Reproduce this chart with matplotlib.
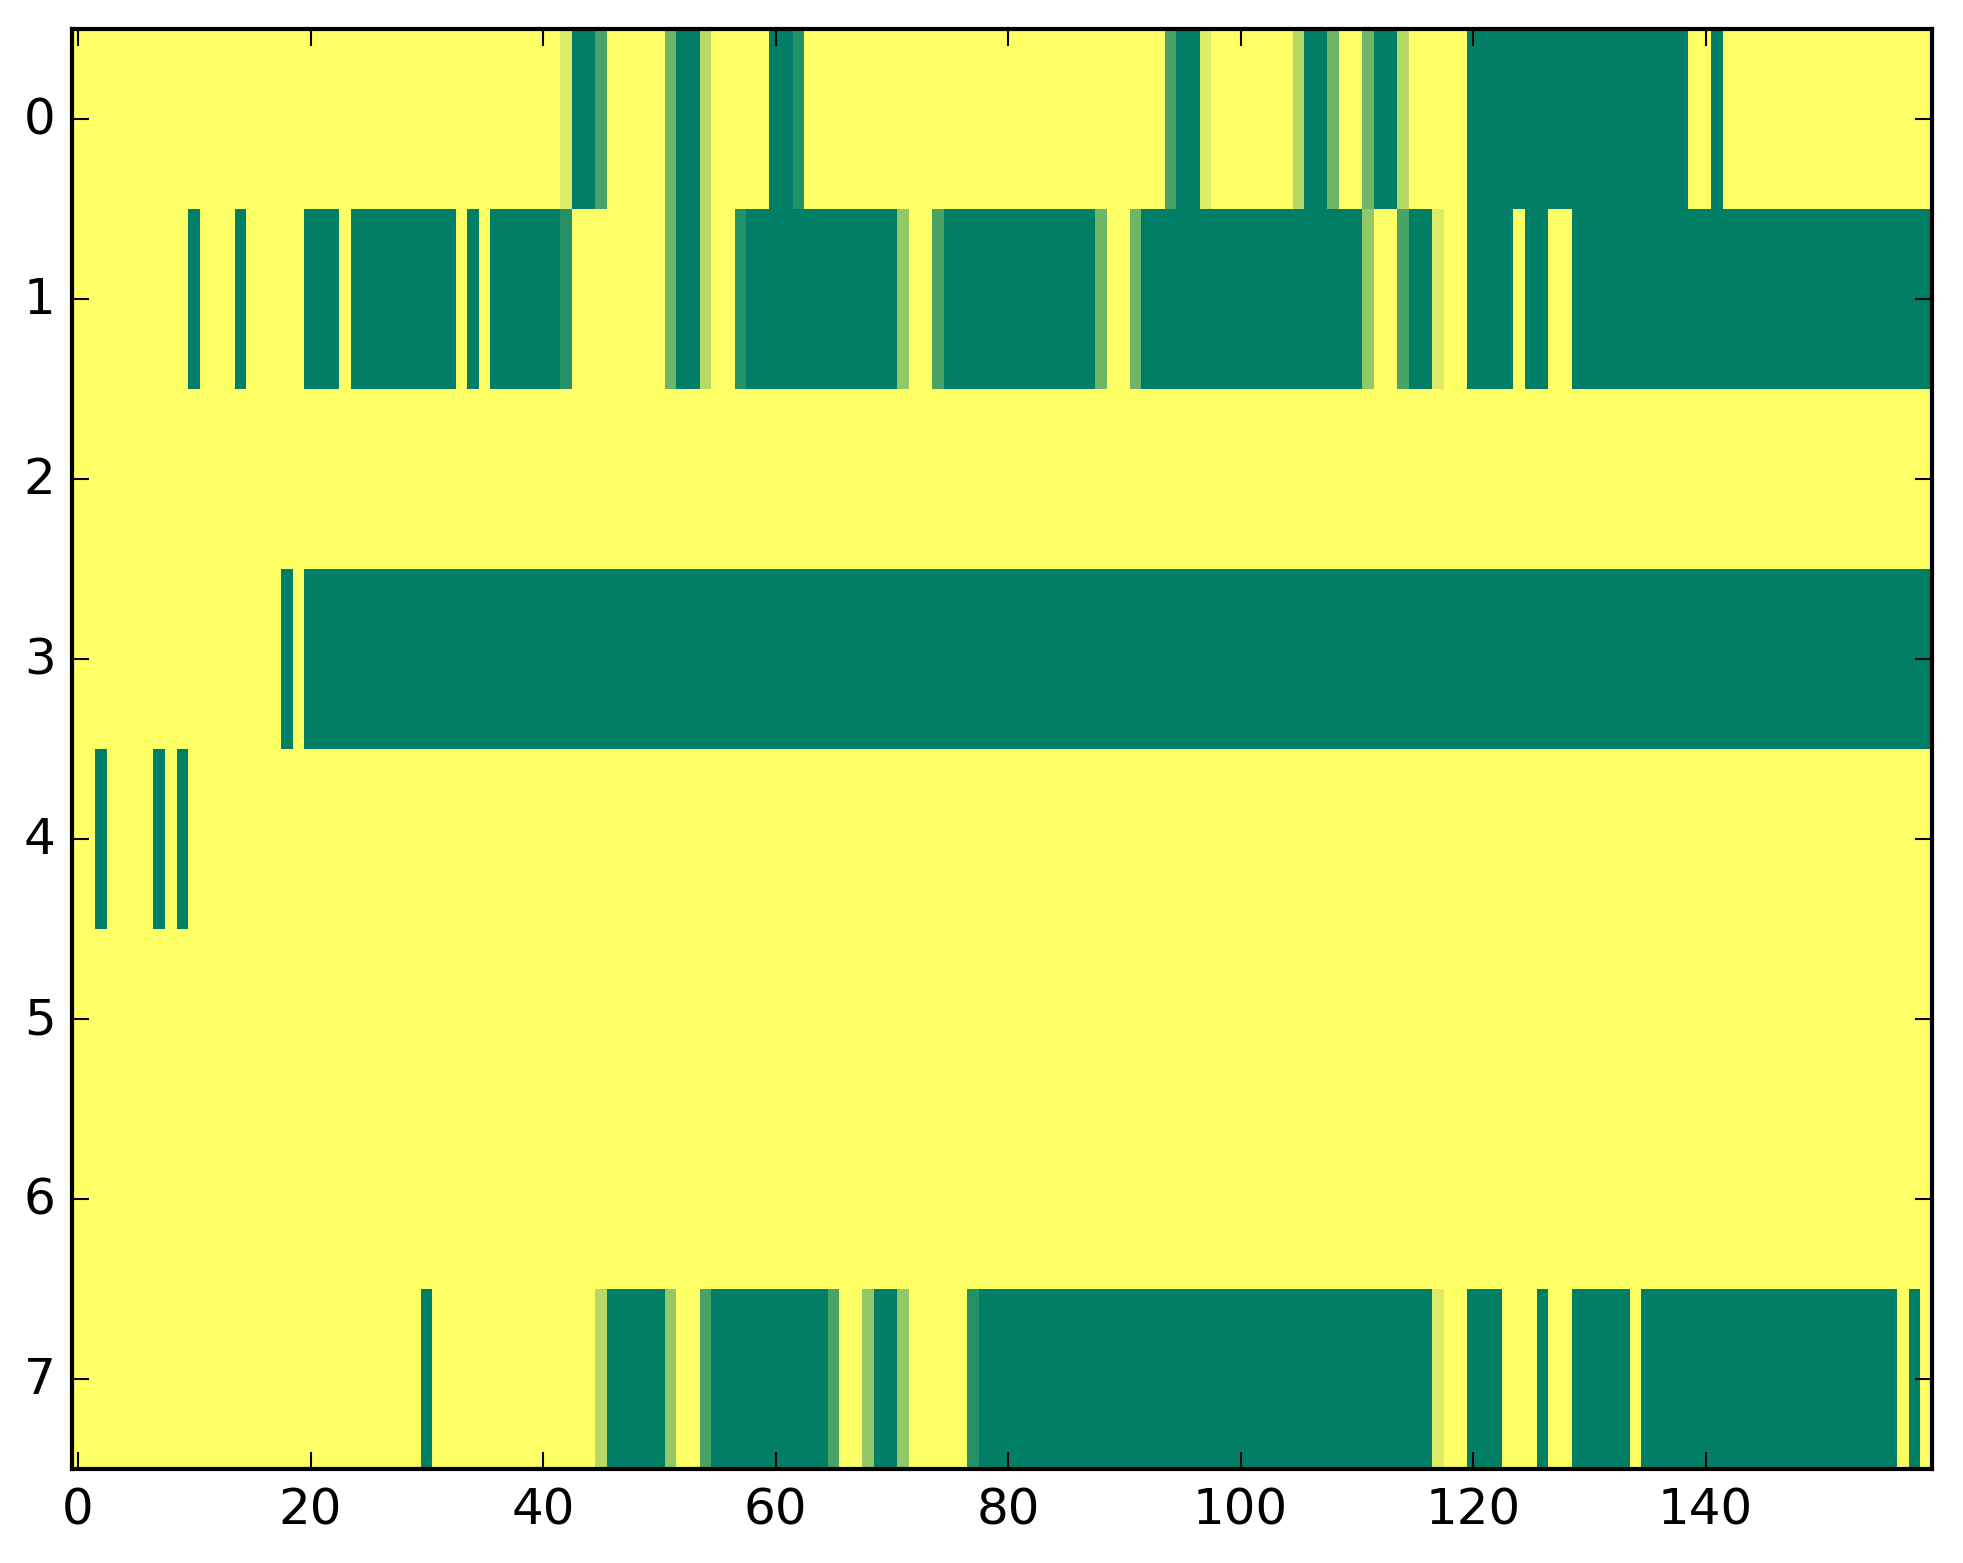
import numpy as np
import matplotlib
matplotlib.use("Agg")
import matplotlib.pyplot as plt

plt.style.use('classic')

n_cols = 160
row_labels = [0, 1, 2, 3, 4, 5, 6, 7]
x_ticks = [0, 20, 40, 60, 80, 100, 120, 140]

# Each row as runs of (level out of 7, run length)
row0_runs = [(0, 42), (1, 1), (7, 2), (5, 1), (0, 5), (4, 1), (7, 2), (2, 1), (0, 5),
             (7, 2), (6, 1), (0, 31), (5, 1), (7, 2), (1, 1), (0, 7), (2, 1), (7, 2),
             (4, 1), (0, 2), (4, 1), (7, 2), (2, 1), (0, 5), (7, 19), (0, 2), (7, 1), (0, 18)]
row1_runs = [(0, 10), (7, 1), (0, 3), (7, 1), (0, 5), (7, 3), (0, 1), (7, 9), (0, 1),
             (7, 1), (0, 1), (7, 6), (6, 1), (0, 8), (4, 1), (7, 2), (2, 1), (0, 2),
             (6, 1), (7, 13), (3, 1), (0, 2), (5, 1), (7, 13), (4, 1), (0, 2), (4, 1),
             (7, 19), (3, 1), (0, 2), (5, 1), (7, 2), (1, 1), (0, 2), (7, 4), (0, 1),
             (7, 2), (0, 2), (7, 31)]
row2_runs = [(0, 160)]
row3_runs = [(0, 18), (7, 1), (0, 1), (7, 140)]
row4_runs = [(0, 2), (7, 1), (0, 4), (7, 1), (0, 1), (7, 1), (0, 150)]
row5_runs = [(0, 160)]
row6_runs = [(0, 160)]
row7_runs = [(0, 30), (7, 1), (0, 14), (2, 1), (7, 5), (3, 1), (0, 2), (5, 1), (7, 10),
             (5, 1), (0, 2), (3, 1), (7, 2), (3, 1), (0, 5), (6, 1), (7, 39), (1, 1),
             (0, 2), (7, 3), (0, 3), (7, 1), (0, 2), (7, 5), (0, 1), (7, 22), (0, 1),
             (7, 1), (0, 1)]

all_runs = [row0_runs, row1_runs, row2_runs, row3_runs,
            row4_runs, row5_runs, row6_runs, row7_runs]


def expand(runs):
    vals = []
    for level, length in runs:
        vals.extend([level / 7.0] * length)
    assert len(vals) == n_cols, len(vals)
    return vals


data = np.array([expand(r) for r in all_runs])

fig = plt.figure(figsize=(1963 / 300, 1564 / 300), dpi=300, facecolor='white')
left, right, bottom, top = 0.0368, 0.9843, 0.0600, 0.9805
ax = fig.add_axes([left, bottom, right - left, top - bottom])
ax.imshow(data, cmap='summer_r', vmin=0, vmax=1, aspect='auto',
          interpolation='nearest')
ax.set_xticks(x_ticks)
ax.set_yticks(row_labels)
ax.set_xlim(-0.5, n_cols - 0.5)
ax.set_ylim(len(row_labels) - 0.5, -0.5)

fig.savefig('out.png', dpi=300, facecolor='white')
